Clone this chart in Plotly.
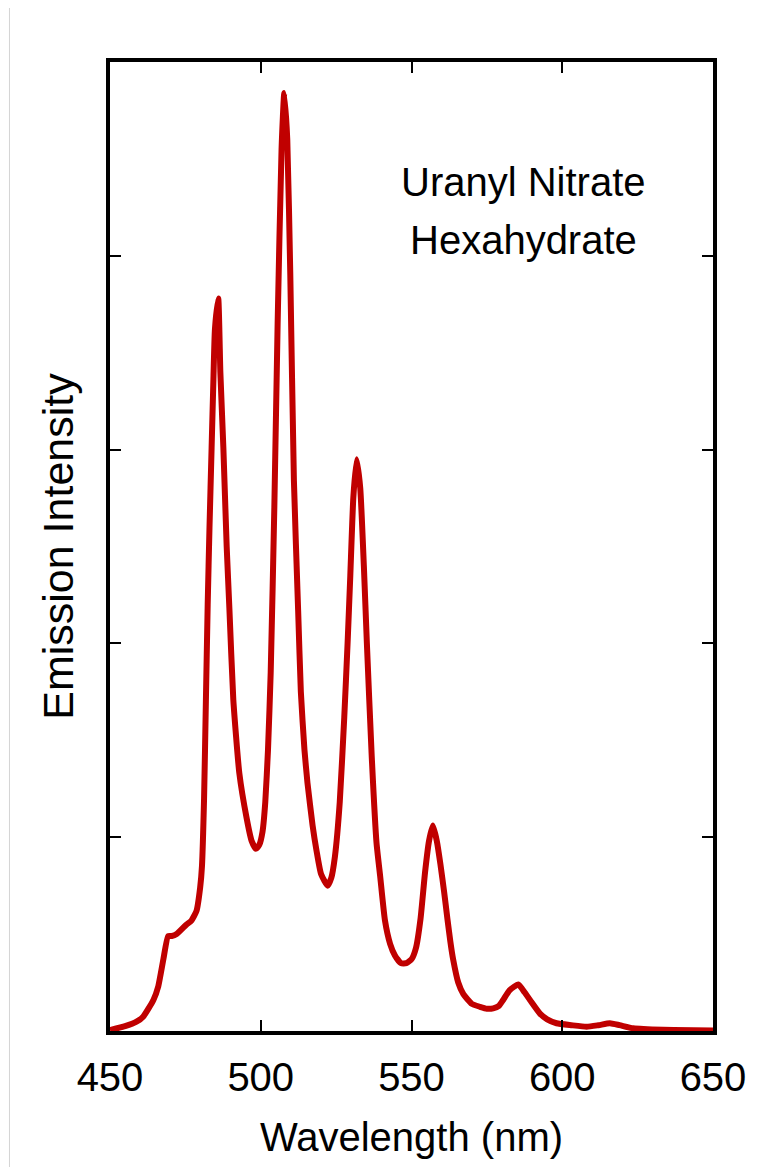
import plotly.graph_objects as go

# Emission spectrum of uranyl nitrate hexahydrate
wavelength = [450.0, 455.0, 458.8, 461.0, 464.4, 466.0, 467.7, 469.3, 470.5, 472.1,
              475.4, 477.0, 478.7, 479.9, 480.5, 481.2, 481.8, 482.4, 483.0, 483.7,
              484.3, 484.8, 485.9, 486.6, 487.6, 488.7, 489.6, 490.9, 492.9, 495.3,
              497.0, 498.4, 499.5, 500.6, 501.5, 502.4, 503.3, 504.5, 505.6, 506.9,
              507.8, 508.8, 509.8, 511.0, 512.4, 513.3, 514.5, 515.5, 517.2, 518.5,
              520.0, 522.2, 523.4, 524.6, 526.2, 527.7, 528.8, 529.7, 530.7, 531.8,
              533.0, 534.2, 535.2, 536.8, 538.4, 539.6, 541.2, 542.9, 544.5, 546.5,
              548.3, 550.0, 551.5, 553.0, 554.5, 555.8, 557.1, 558.4, 559.6, 560.8,
              561.9, 562.9, 563.8, 565.5, 567.2, 570.0, 572.7, 575.0, 577.1, 579.0,
              580.4, 582.5, 585.4, 587.5, 589.3, 592.6, 595.0, 598.1, 603.0, 608.1,
              612.0, 615.8, 619.0, 623.5, 633.5, 650.0]
intensity = [0.005, 0.025, 0.048, 0.074, 0.16, 0.23, 0.37, 0.49, 0.49, 0.50,
             0.55, 0.57, 0.62, 0.74, 0.85, 1.20, 1.70, 2.20, 2.60, 3.01,
             3.36, 3.62, 3.78, 3.40, 3.01, 2.50, 2.18, 1.71, 1.33, 1.10,
             0.98, 0.94, 0.96, 1.03, 1.18, 1.45, 1.85, 2.70, 3.65, 4.55,
             4.84, 4.60, 3.90, 2.84, 2.17, 1.75, 1.45, 1.28, 1.06, 0.93,
             0.81, 0.75, 0.79, 0.90, 1.18, 1.62, 2.00, 2.35, 2.75, 2.95,
             2.80, 2.40, 2.00, 1.42, 0.97, 0.80, 0.57, 0.45, 0.39, 0.35,
             0.35, 0.37, 0.43, 0.58, 0.82, 0.98, 1.06, 0.98, 0.86, 0.72,
             0.58, 0.46, 0.37, 0.25, 0.19, 0.14, 0.125, 0.115, 0.117, 0.13,
             0.16, 0.21, 0.24, 0.20, 0.16, 0.09, 0.06, 0.04, 0.03, 0.022,
             0.03, 0.04, 0.03, 0.014, 0.006, 0.003]

x_ticks = [450, 500, 550, 600, 650]
y_ticks = [0, 1, 2, 3, 4, 5]
label_lines = ["Uranyl Nitrate", "Hexahydrate"]

FONT = "Arial, Liberation Sans, sans-serif"

fig = go.Figure()
fig.add_trace(go.Scatter(
    x=wavelength, y=intensity, mode="lines",
    line=dict(color="#C00000", width=6, shape="spline", smoothing=0.5),
    showlegend=False, hoverinfo="x+y",
))

fig.update_layout(
    width=751, height=1159,
    margin=dict(l=102, r=46, t=54, b=136),
    paper_bgcolor="white", plot_bgcolor="white",
    font=dict(family=FONT, color="black"),
    xaxis=dict(
        range=[450, 650], tickvals=x_ticks, ticktext=[str(v) for v in x_ticks],
        ticks="inside", ticklen=11, tickwidth=2, tickcolor="black",
        showline=True, linewidth=4, linecolor="black", mirror="ticks",
        showgrid=False, zeroline=False,
        tickfont=dict(size=40, family=FONT),
        ticklabelstandoff=8,
        title=dict(text="Wavelength (nm)", font=dict(size=40, family=FONT), standoff=26),
    ),
    yaxis=dict(
        range=[0, 5], tickvals=y_ticks, showticklabels=False,
        ticks="inside", ticklen=11, tickwidth=2, tickcolor="black",
        showline=True, linewidth=4, linecolor="black", mirror="ticks",
        showgrid=False, zeroline=False,
        title=dict(text="Emission Intensity", font=dict(size=43, family=FONT), standoff=20),
    ),
    shapes=[dict(type="line", xref="paper", yref="paper",
                 x0=-0.1667, x1=-0.1667, y0=-0.2, y1=1.1,
                 line=dict(color="#d4d4d4", width=1))],
)

fig.add_annotation(text=label_lines[0], xref="paper", yref="paper",
                   x=0.685, y=(1031 - 182) / 969, xanchor="center", yanchor="middle",
                   showarrow=False, font=dict(size=40, family=FONT))
fig.add_annotation(text=label_lines[1], xref="paper", yref="paper",
                   x=0.685, y=(1031 - 240) / 969, xanchor="center", yanchor="middle",
                   showarrow=False, font=dict(size=40, family=FONT))

fig.write_html("out.html")
